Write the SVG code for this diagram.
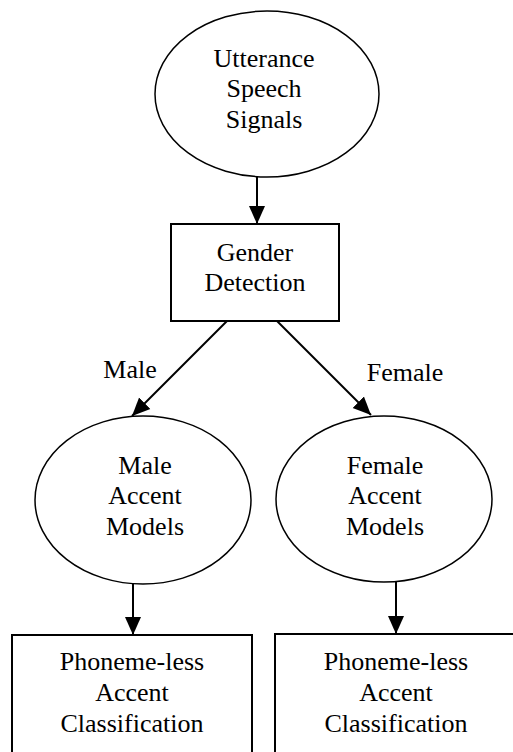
<svg xmlns="http://www.w3.org/2000/svg" width="513" height="752" viewBox="0 0 513 752">
<style>
text{font-family:"Liberation Serif","Times New Roman",serif;font-size:26px;fill:#000;text-anchor:middle}
.ell{fill:#fff;stroke:#000;stroke-width:1.5}
.box{fill:#fff;stroke:#000;stroke-width:2}
.con{stroke:#000;stroke-width:2;fill:none;marker-end:url(#ah)}
</style>
<defs>
<marker id="ah" markerUnits="userSpaceOnUse" markerWidth="18" markerHeight="18" viewBox="0 0 18 16" refX="18" refY="8" orient="auto">
<path d="M0,0 L18,8 L0,16 Z" fill="#000"/>
</marker>
</defs>
<rect width="513" height="752" fill="#fff"/>
<g id="connectors">
<line class="con" x1="257" y1="177" x2="257" y2="224"/>
<line class="con" x1="227" y1="321" x2="132" y2="416"/>
<line class="con" x1="277" y1="321" x2="371" y2="415"/>
<line class="con" x1="133" y1="584" x2="133" y2="635"/>
<line class="con" x1="396" y1="582" x2="396" y2="634"/>
<text x="130" y="378">Male</text>
<text x="405" y="381">Female</text>
</g>
<g id="utterance">
<ellipse class="ell" cx="267" cy="94" rx="112" ry="83"/>
<text x="264" y="67">Utterance</text>
<text x="264" y="97">Speech</text>
<text x="264" y="128">Signals</text>
</g>
<g id="gender">
<rect class="box" x="171" y="224" width="168" height="97"/>
<text x="255" y="261">Gender</text>
<text x="255" y="291">Detection</text>
</g>
<g id="male">
<ellipse class="ell" cx="143" cy="500" rx="108" ry="84"/>
<text x="145" y="474">Male</text>
<text x="145" y="504">Accent</text>
<text x="145" y="535">Models</text>
</g>
<g id="female">
<ellipse class="ell" cx="384" cy="499" rx="108" ry="83"/>
<text x="385" y="474">Female</text>
<text x="385" y="504">Accent</text>
<text x="385" y="535">Models</text>
</g>
<g id="class-left">
<rect class="box" x="12" y="635" width="240" height="130"/>
<text x="132" y="670">Phoneme-less</text>
<text x="132" y="701">Accent</text>
<text x="132" y="732">Classification</text>
</g>
<g id="class-right">
<rect class="box" x="275" y="634" width="242" height="130"/>
<text x="396" y="670">Phoneme-less</text>
<text x="396" y="701">Accent</text>
<text x="396" y="732">Classification</text>
</g>
</svg>
